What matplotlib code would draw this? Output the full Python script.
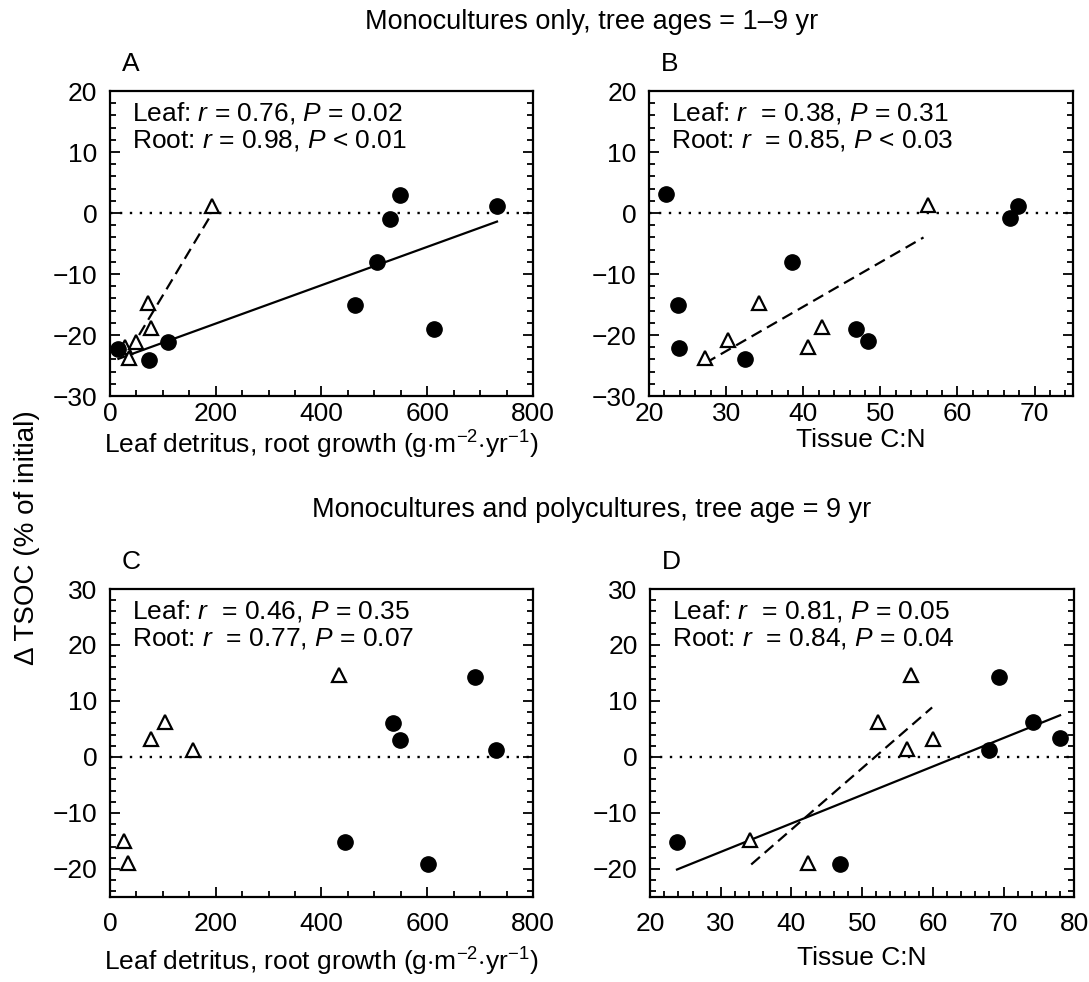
import matplotlib
matplotlib.use('Agg')
import matplotlib.pyplot as plt
from matplotlib.ticker import MultipleLocator

plt.rcParams['font.family'] = ['Liberation Sans', 'DejaVu Sans']
plt.rcParams['mathtext.fontset'] = 'custom'
plt.rcParams['mathtext.rm'] = 'Liberation Sans'
plt.rcParams['mathtext.it'] = 'Liberation Sans:italic'

# panel A: monocultures, ages 1-9, vs leaf detritus / root growth
a_leaf_x = [16, 74, 110, 464, 505, 530, 549, 612, 732]
a_leaf_y = [-22.3, -24.1, -21.1, -15.1, -8.1, -1.0, 3.0, -19.0, 1.2]
a_root_x = [28, 36, 49, 72, 78, 193]
a_root_y = [-22.0, -23.8, -21.1, -14.8, -18.9, 1.2]
a_leaf_fit_x = [16, 732]
a_leaf_fit_y = [-23.9, -1.4]
a_root_fit_x = [55, 187]
a_root_fit_y = [-20.0, -0.9]

# panel B: monocultures, ages 1-9, vs tissue C:N
b_leaf_x = [22.2, 23.7, 23.9, 32.4, 38.5, 46.9, 48.4, 66.8, 67.8]
b_leaf_y = [3.1, -15.1, -22.1, -24.0, -8.0, -19.0, -20.9, -0.8, 1.2]
b_root_x = [27.3, 30.2, 34.2, 40.6, 42.4, 56.2]
b_root_y = [-23.8, -20.8, -14.8, -21.9, -18.7, 1.3]
b_root_fit_x = [27.3, 55.6]
b_root_fit_y = [-24.6, -4.0]

# panel C: mono- and polycultures, age 9, vs leaf detritus / root growth
c_leaf_x = [445, 536, 549, 602, 690, 731]
c_leaf_y = [-15.1, 6.1, 3.1, -19.2, 14.3, 1.2]
c_root_x = [26, 34, 77, 104, 157, 433]
c_root_y = [-15.0, -18.9, 3.3, 6.3, 1.2, 14.6]

# panel D: mono- and polycultures, age 9, vs tissue C:N
d_leaf_x = [23.8, 46.9, 67.9, 69.4, 74.2, 78.0]
d_leaf_y = [-15.2, -19.2, 1.2, 14.3, 6.2, 3.4]
d_root_x = [34.2, 42.4, 52.2, 56.3, 56.9, 60.0]
d_root_y = [-14.8, -19.0, 6.3, 1.4, 14.6, 3.3]
d_leaf_fit_x = [23.8, 78.0]
d_leaf_fit_y = [-20.1, 7.45]
d_root_fit_x = [34.3, 59.9]
d_root_fit_y = [-19.2, 8.85]

stats_a = [r'Leaf: $r$ = 0.76, $P$ = 0.02', r'Root: $r$ = 0.98, $P$ < 0.01']
stats_b = [r'Leaf: $r$  = 0.38, $P$ = 0.31', r'Root: $r$  = 0.85, $P$ < 0.03']
stats_c = [r'Leaf: $r$  = 0.46, $P$ = 0.35', r'Root: $r$  = 0.77, $P$ = 0.07']
stats_d = [r'Leaf: $r$  = 0.81, $P$ = 0.05', r'Root: $r$  = 0.84, $P$ = 0.04']

xlab_growth = r'Leaf detritus, root growth (g$\cdot$m$^{-2}$$\cdot$yr$^{-1}$)'
xlab_cn = 'Tissue C:N'

FS = 19


def draw_panel(ax, letter, leaf, root, stats, xlim, ylim, xmaj, xmin, xlabel,
               leaf_fit=None, root_fit=None, xpad=5, labpad=2):
    ax.axhline(0, color='black', lw=1.7, ls=(0, (1, 3.2)), zorder=1)
    if leaf_fit is not None:
        ax.plot(leaf_fit[0], leaf_fit[1], color='black', lw=1.6, zorder=2)
    if root_fit is not None:
        ax.plot(root_fit[0], root_fit[1], color='black', lw=1.6,
                ls=(0, (5.2, 2.8)), zorder=2)
    ax.plot(leaf[0], leaf[1], 'o', ms=11, color='black', zorder=4, ls='none')
    ax.plot(root[0], root[1], '^', ms=10, mfc='white', mec='black', mew=1.6,
            zorder=3, ls='none')

    ax.set_xlim(*xlim)
    ax.set_ylim(*ylim)
    ax.xaxis.set_major_locator(MultipleLocator(xmaj))
    ax.xaxis.set_minor_locator(MultipleLocator(xmin))
    ax.yaxis.set_major_locator(MultipleLocator(10))
    ax.yaxis.set_minor_locator(MultipleLocator(2))
    ax.tick_params(which='both', direction='in', right=True, top=False,
                   labelsize=FS, width=1.3)
    ax.tick_params(which='major', length=7)
    ax.tick_params(which='minor', length=4)
    ax.tick_params(axis='x', pad=xpad)
    ax.tick_params(axis='y', pad=9)
    for s in ax.spines.values():
        s.set_linewidth(1.6)

    ax.text(0.052, 0.928, stats[0], transform=ax.transAxes, fontsize=FS,
            ha='left', va='center')
    ax.text(0.052, 0.838, stats[1], transform=ax.transAxes, fontsize=FS,
            ha='left', va='center')
    ax.text(0.028, 1.05, letter, transform=ax.transAxes, fontsize=FS,
            ha='left', va='bottom')
    ax.set_xlabel(xlabel, fontsize=FS, labelpad=labpad)


fig = plt.figure(figsize=(10.89, 9.82), dpi=100)

ax_a = fig.add_axes([0.101, 0.5967, 0.3884, 0.3106])
ax_b = fig.add_axes([0.596, 0.5967, 0.3894, 0.3106])
ax_c = fig.add_axes([0.101, 0.0866, 0.3884, 0.3136])
ax_d = fig.add_axes([0.597, 0.0866, 0.3894, 0.3136])

draw_panel(ax_a, 'A', (a_leaf_x, a_leaf_y), (a_root_x, a_root_y), stats_a,
           (0, 800), (-30, 20), 200, 50, xlab_growth,
           leaf_fit=(a_leaf_fit_x, a_leaf_fit_y),
           root_fit=(a_root_fit_x, a_root_fit_y), xpad=4, labpad=2)
draw_panel(ax_b, 'B', (b_leaf_x, b_leaf_y), (b_root_x, b_root_y), stats_b,
           (20, 75), (-30, 20), 10, 2, xlab_cn,
           root_fit=(b_root_fit_x, b_root_fit_y), xpad=4, labpad=2)
draw_panel(ax_c, 'C', (c_leaf_x, c_leaf_y), (c_root_x, c_root_y), stats_c,
           (0, 800), (-25, 30), 200, 50, xlab_growth, xpad=11, labpad=7)
draw_panel(ax_d, 'D', (d_leaf_x, d_leaf_y), (d_root_x, d_root_y), stats_d,
           (20, 80), (-25, 30), 10, 2, xlab_cn,
           leaf_fit=(d_leaf_fit_x, d_leaf_fit_y),
           root_fit=(d_root_fit_x, d_root_fit_y), xpad=11, labpad=7)

fig.text(0.543, 0.978, 'Monocultures only, tree ages = 1\u20139 yr',
         fontsize=19.5, ha='center', va='center')
fig.text(0.543, 0.481, 'Monocultures and polycultures, tree age = 9 yr',
         fontsize=19.5, ha='center', va='center')
fig.text(0.025, 0.453, '\u0394 TSOC (% of initial)', fontsize=20,
         rotation=90, ha='center', va='center')

fig.savefig('out.png', dpi=100)
